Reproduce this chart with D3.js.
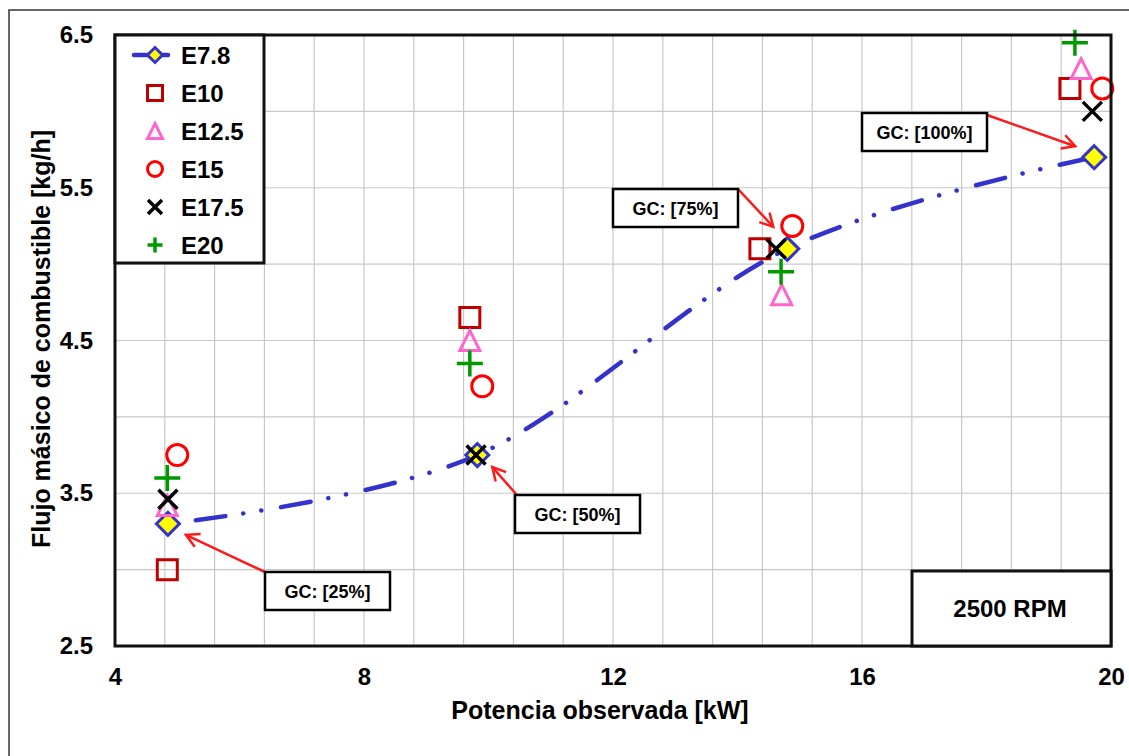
<!DOCTYPE html>
<html>
<head>
<meta charset="utf-8">
<script src="https://cdn.jsdelivr.net/npm/d3@7"></script>
<style>
  body { margin: 0; background: #fff; }
  text { font-family: "Liberation Sans", Arial, sans-serif; font-weight: bold; fill: #000; }
</style>
</head>
<body>
<div id="chart"></div>
<script>
const width = 1129;
const height = 756;
const margin = [35, 18, 110, 115]; // top, right, bottom, left

// series names and [potencia kW, flujo kg/h]
const seriesNames = ["E7.8", "E10", "E12.5", "E15", "E17.5", "E20"];
const e78 = [[4.85, 3.30], [9.82, 3.75], [14.80, 5.10], [19.73, 5.70]];
const e10 = [[4.84, 3.00], [9.70, 4.65], [14.36, 5.10], [19.34, 6.15]];
const e125 = [[4.84, 3.42], [9.70, 4.50], [14.71, 4.80], [19.52, 6.28]];
const e15 = [[5.00, 3.75], [9.90, 4.20], [14.88, 5.25], [19.86, 6.15]];
const e175 = [[4.85, 3.46], [9.80, 3.75], [14.62, 5.10], [19.70, 6.00]];
const e20 = [[4.84, 3.60], [9.70, 4.35], [14.70, 4.95], [19.42, 6.45]];

const xTicks = [4, 8, 12, 16, 20];
const yTicks = [2.5, 3.5, 4.5, 5.5, 6.5];
const gcLabels = ["GC: [25%]", "GC: [50%]", "GC: [75%]", "GC: [100%]"];

var svg;

document.addEventListener("DOMContentLoaded", function () {
  svg = d3
    .select("#chart")
    .append("svg")
    .attr("width", width)
    .attr("height", height);

  drawChart();
});

function markerPath(type, s) {
  // s = half size of the marker
  if (type === "diamond") return `M0,${-s}L${s},0L0,${s}L${-s},0Z`;
  if (type === "square") return `M${-s},${-s}H${s}V${s}H${-s}Z`;
  if (type === "triangle") return `M0,${-s}L${s},${s}L${-s},${s}Z`;
  if (type === "circle") return `M${s},0A${s},${s} 0 1,1 ${-s},0A${s},${s} 0 1,1 ${s},0Z`;
  if (type === "x") return `M${-s},${-s}L${s},${s}M${s},${-s}L${-s},${s}`;
  return `M0,${-s}V${s}M${-s},0H${s}`;
}

function drawChart() {
  const x = d3.scaleLinear().domain([4, 20]).range([margin[3], width - margin[1]]);
  const y = d3.scaleLinear().domain([2.5, 6.5]).range([height - margin[2], margin[0]]);

  const styles = [
    { type: "diamond", stroke: "#3333cc", fill: "#ffff00", s: 11.5, ls: 7.5, w: 3 },
    { type: "square", stroke: "#c00000", fill: "none", s: 10, ls: 7.5, w: 3 },
    { type: "triangle", stroke: "#ff66cc", fill: "none", s: 10, ls: 7.5, w: 3 },
    { type: "circle", stroke: "#ff0000", fill: "none", s: 10.5, ls: 7.5, w: 3 },
    { type: "x", stroke: "#000000", fill: "none", s: 9.5, ls: 7, w: 3.5 },
    { type: "plus", stroke: "#009900", fill: "none", s: 13, ls: 7.5, w: 3.5 }
  ];
  const allSeries = [e78, e10, e125, e15, e175, e20];

  // outer frame
  svg.append("path")
    .attr("d", `M9,${height}V10H${width}`)
    .attr("fill", "none")
    .attr("stroke", "#333")
    .attr("stroke-width", 1.5);

  // grid
  const xGrid = d3.range(4, 20.01, 0.8);
  const yGrid = d3.range(2.5, 6.51, 0.5);
  svg.append("g")
    .selectAll("line")
    .data(xGrid)
    .enter()
    .append("line")
    .attr("x1", (d) => x(d))
    .attr("x2", (d) => x(d))
    .attr("y1", y(2.5))
    .attr("y2", y(6.5))
    .attr("stroke", "#c8c8c8")
    .attr("stroke-width", 1.2);
  svg.append("g")
    .selectAll("line")
    .data(yGrid)
    .enter()
    .append("line")
    .attr("x1", x(4))
    .attr("x2", x(20))
    .attr("y1", (d) => y(d))
    .attr("y2", (d) => y(d))
    .attr("stroke", "#c8c8c8")
    .attr("stroke-width", 1.2);

  // axes labels
  const xAxis = svg.append("g")
    .attr("transform", "translate(0," + y(2.5) + ")")
    .call(d3.axisBottom(x).tickValues(xTicks).tickSize(0).tickPadding(22).tickFormat(d3.format("d")));
  const yAxis = svg.append("g")
    .attr("transform", "translate(" + x(4) + ",0)")
    .call(d3.axisLeft(y).tickValues(yTicks).tickSize(0).tickPadding(22).tickFormat(d3.format(".1f")));
  [xAxis, yAxis].forEach((a) => {
    a.select(".domain").remove();
    a.selectAll("text").attr("font-size", 24).attr("font-family", null).attr("fill", "#000");
  });

  svg.append("text")
    .attr("x", 600)
    .attr("y", 719)
    .attr("text-anchor", "middle")
    .attr("font-size", 25)
    .text("Potencia observada [kW]");
  svg.append("text")
    .attr("transform", "translate(50,339) rotate(-90)")
    .attr("text-anchor", "middle")
    .attr("font-size", 25)
    .text("Flujo másico de combustible [kg/h]");

  // annotations GC boxes with arrows
  svg.append("defs")
    .append("marker")
    .attr("id", "arrow")
    .attr("markerUnits", "userSpaceOnUse")
    .attr("viewBox", "-16 -10 20 20")
    .attr("markerWidth", 20)
    .attr("markerHeight", 20)
    .attr("refX", 0)
    .attr("refY", 0)
    .attr("orient", "auto")
    .append("path")
    .attr("d", "M-13,-7L0,0L-13,7")
    .attr("fill", "none")
    .attr("stroke", "#ff1a1a")
    .attr("stroke-width", 2.5);

  // box top-left in px, arrow start corner and arrow tip offset from E7.8 point
  const notes = [
    { bx: 265, by: 572, sx: 265, sy: 572, dx: 18, dy: 11 },
    { bx: 515, by: 495, sx: 517, sy: 495, dx: 15, dy: 12 },
    { bx: 613, by: 189, sx: 738, sy: 189, dx: -14, dy: -22 },
    { bx: 862, by: 113, sx: 987, sy: 115, dx: -19, dy: -11 }
  ];

  // E7.8 smooth dash-dot-dot line
  const line = d3.line()
    .x((d) => x(d[0]))
    .y((d) => y(d[1]))
    .curve(d3.curveCardinal.tension(0));

  svg.append("path")
    .datum(e78)
    .attr("d", line)
    .attr("fill", "none")
    .attr("stroke", "#3333cc")
    .attr("stroke-width", 4.5)
    .attr("stroke-linecap", "round")
    .attr("stroke-dasharray", "30 18 0.1 18 0.1 20")
    .attr("stroke-dashoffset", 58);

  // markers, series drawn in order
  allSeries.forEach((pts, i) => {
    const st = styles[i];
    svg.append("g")
      .selectAll("path")
      .data(pts)
      .enter()
      .append("path")
      .attr("transform", (d) => "translate(" + x(d[0]) + "," + y(d[1]) + ")")
      .attr("d", markerPath(st.type, st.s))
      .attr("fill", st.fill)
      .attr("stroke", st.stroke)
      .attr("stroke-width", st.w);
  });

  notes.forEach((n, i) => {
    const p = e78[i];
    svg.append("line")
      .attr("x1", n.sx)
      .attr("y1", n.sy)
      .attr("x2", x(p[0]) + n.dx)
      .attr("y2", y(p[1]) + n.dy)
      .attr("stroke", "#ff1a1a")
      .attr("stroke-width", 2.5)
      .attr("marker-end", "url(#arrow)");
    svg.append("rect")
      .attr("x", n.bx)
      .attr("y", n.by)
      .attr("width", 125)
      .attr("height", 38)
      .attr("fill", "#fff")
      .attr("stroke", "#000")
      .attr("stroke-width", 2.5);
    svg.append("text")
      .attr("x", n.bx + 62.5)
      .attr("y", n.by + 25.5)
      .attr("text-anchor", "middle")
      .attr("font-size", 18)
      .text(gcLabels[i]);
  });

  // plot border
  svg.append("rect")
    .attr("x", x(4))
    .attr("y", y(6.5))
    .attr("width", x(20) - x(4))
    .attr("height", y(2.5) - y(6.5))
    .attr("fill", "none")
    .attr("stroke", "#111")
    .attr("stroke-width", 3);

  // rpm box
  svg.append("rect")
    .attr("x", 912)
    .attr("y", 571)
    .attr("width", x(20) - 912)
    .attr("height", y(2.5) - 571)
    .attr("fill", "#fff")
    .attr("stroke", "#111")
    .attr("stroke-width", 3);
  svg.append("text")
    .attr("x", 1010)
    .attr("y", 617)
    .attr("text-anchor", "middle")
    .attr("font-size", 24)
    .text("2500 RPM");

  // legend
  const lg = svg.append("g");
  lg.append("rect")
    .attr("x", x(4))
    .attr("y", y(6.5))
    .attr("width", 264 - x(4))
    .attr("height", 263 - y(6.5))
    .attr("fill", "#fff")
    .attr("stroke", "#111")
    .attr("stroke-width", 3);
  seriesNames.forEach((name, i) => {
    const st = styles[i];
    const cy = 55 + i * 38;
    if (i === 0) {
      lg.append("line")
        .attr("x1", 134).attr("x2", 168)
        .attr("y1", cy).attr("y2", cy)
        .attr("stroke", "#3333cc")
        .attr("stroke-width", 4.5)
        .attr("stroke-linecap", "round");
    }
    lg.append("path")
      .attr("transform", "translate(155," + cy + ")")
      .attr("d", markerPath(st.type, st.ls))
      .attr("fill", st.fill)
      .attr("stroke", st.stroke)
      .attr("stroke-width", st.w);
    lg.append("text")
      .attr("x", 181)
      .attr("y", cy + 9)
      .attr("font-size", 24)
      .text(name);
  });
}
</script>
</body>
</html>
